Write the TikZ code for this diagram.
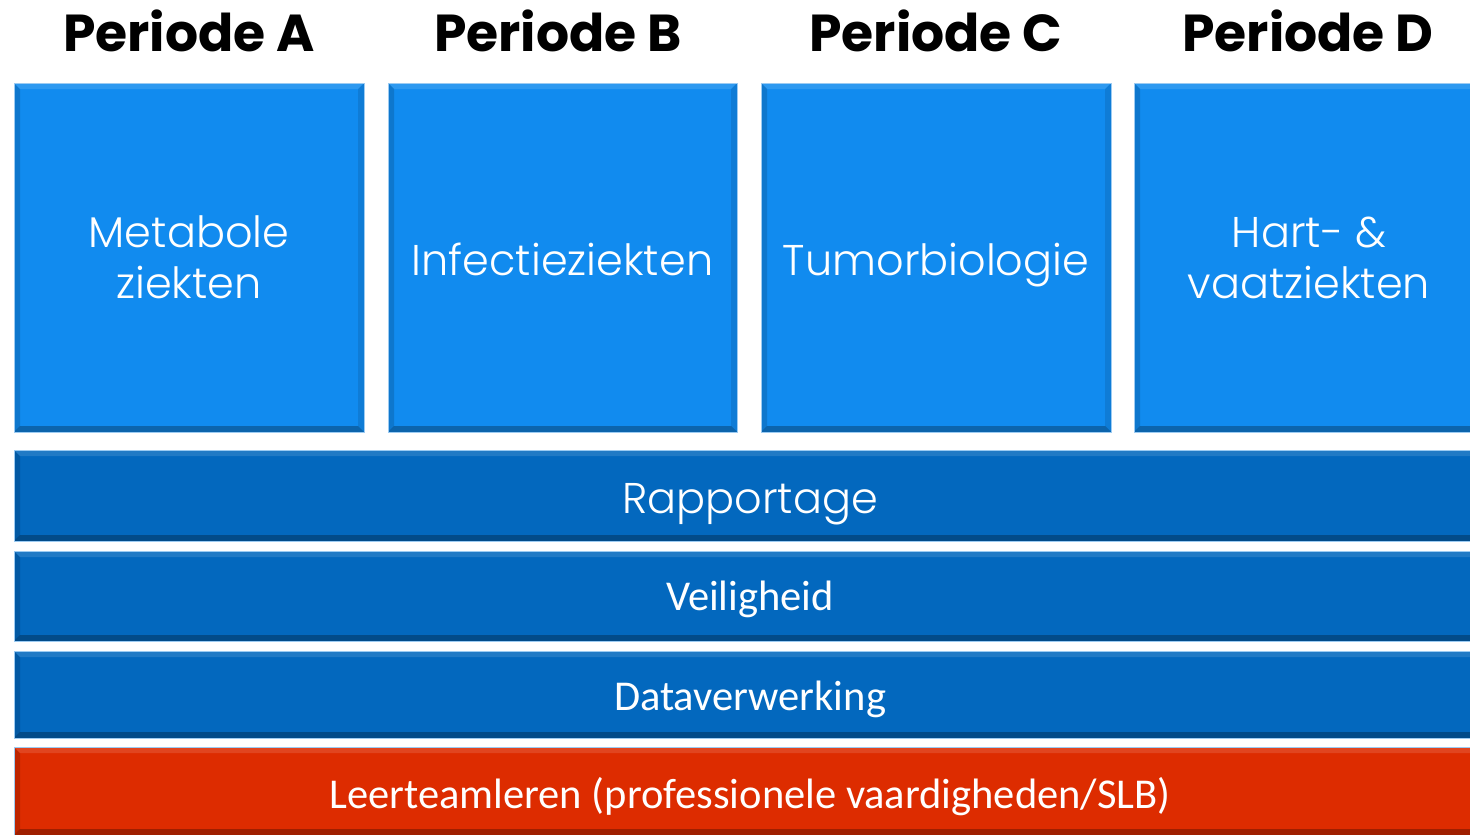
\documentclass[tikz,border=0pt]{standalone}
\usepackage{fontspec}
\newfontfamily\gothicbold{Poppins}
\IfFontExistsTF{Poppins Light}{\newfontfamily\gothic{Poppins Light}}{\newfontfamily\gothic{Poppins}}
\newfontfamily\calib{Carlito}
\definecolor{boxblue}{HTML}{118BEF}
\definecolor{barblue}{HTML}{0368BE}
\definecolor{barred}{HTML}{DD2C00}
\definecolor{edgeblue}{HTML}{9CCBF2}
\tikzset{
  bevel/.style={
    path picture={
      \fill[white,opacity=.12] (path picture bounding box.north west) -- (path picture bounding box.north east)
        -- ([xshift=-6bp,yshift=-6bp]path picture bounding box.north east) -- ([xshift=6bp,yshift=-6bp]path picture bounding box.north west) -- cycle;
      \fill[black,opacity=.28] (path picture bounding box.south west) -- (path picture bounding box.south east)
        -- ([xshift=-6bp,yshift=6bp]path picture bounding box.south east) -- ([xshift=6bp,yshift=6bp]path picture bounding box.south west) -- cycle;
      \fill[black,opacity=.14] (path picture bounding box.north west) -- (path picture bounding box.south west)
        -- ([xshift=6bp,yshift=6bp]path picture bounding box.south west) -- ([xshift=6bp,yshift=-6bp]path picture bounding box.north west) -- cycle;
      \fill[black,opacity=.10] (path picture bounding box.north east) -- (path picture bounding box.south east)
        -- ([xshift=-6bp,yshift=6bp]path picture bounding box.south east) -- ([xshift=-6bp,yshift=-6bp]path picture bounding box.north east) -- cycle;
    }},
  topicbox/.style={bevel, fill=boxblue, draw=edgeblue, line width=1bp, anchor=north west,
    inner sep=0pt, outer sep=0pt, minimum height=349bp, text=white, align=center,
    font=\gothic\fontsize{43bp}{51bp}\selectfont},
  oneline/.style={text height=35bp, text depth=0bp},
  bar/.style={bevel, draw=edgeblue, line width=1bp, anchor=north west, inner sep=0pt, outer sep=0pt,
    minimum width=1472bp, text=white},
  gothictext/.style={font=\gothic\fontsize{43bp}{50bp}\selectfont},
  calibtext/.style={font=\calib\fontsize{42.5bp}{50bp}\selectfont},
  head/.style={font=\gothicbold\bfseries\fontsize{52bp}{60bp}\selectfont, text=black, anchor=base},
}
\begin{document}
\begin{tikzpicture}[x=1bp,y=-1bp]
\useasboundingbox (0,0) rectangle (1470,834);
% headings
\node[head] (ha) at (189,51) {Periode A};
\node[head] (hb) at (558,51) {Periode B};
\node[head] (hc) at (936,51) {Periode C};
\node[head] (hd) at (1308,51) {Periode D};
% topic boxes
\node[topicbox, minimum width=350bp] (a) at (14,83) {Metabole\\ziekten};
\node[topicbox, oneline, minimum width=349bp] (b) at (388,83) {Infectieziekten};
\node[topicbox, oneline, minimum width=350bp] (c) at (761,83) {Tumorbiologie};
\node[topicbox, minimum width=350bp] (d) at (1134,83) {Hart- \&\\vaatziekten};
% bars
\node[bar, fill=barblue, minimum height=91bp, gothictext, text height=35bp, text depth=0bp] (r) at (14,450) {Rapportage};
\node[bar, fill=barblue, minimum height=90bp, calibtext, text height=28bp, text depth=0bp] (v) at (14,551) {Veiligheid};
\node[bar, fill=barblue, minimum height=87bp, calibtext, text height=31bp, text depth=0bp] (dv) at (14,651) {Dataverwerking};
\node[bar, fill=barred, minimum height=88bp, calibtext, text height=34bp, text depth=0bp] (l) at (14,747) {Leerteamleren (professionele vaardigheden/SLB)};
\end{tikzpicture}
\end{document}
